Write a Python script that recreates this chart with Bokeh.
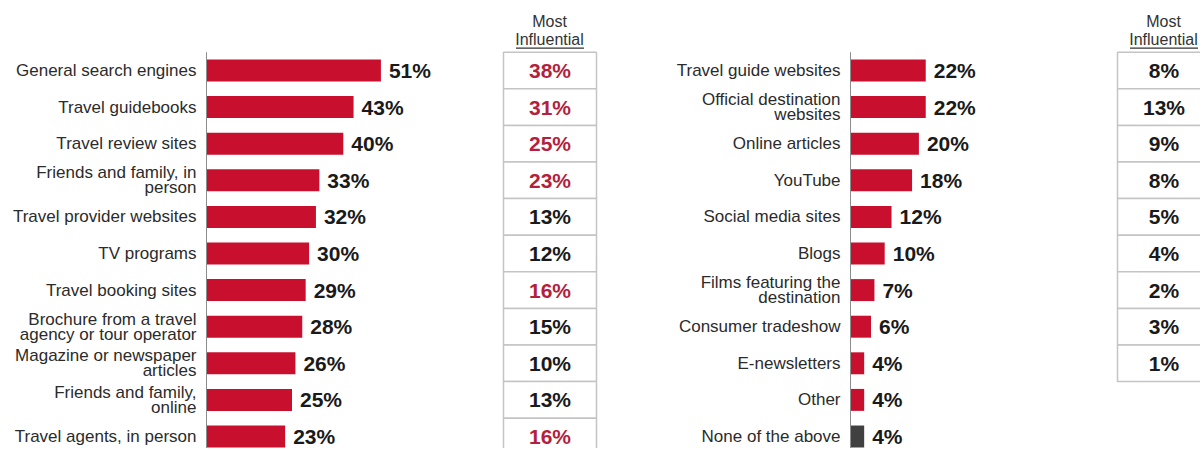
import numpy as np
from bokeh.plotting import figure
from bokeh.models import Range1d, ColumnDataSource
from bokeh.layouts import row
from bokeh.core.properties import value
from bokeh.embed import file_html
from bokeh.resources import INLINE

# ---------------- data ----------------
left_sources = [
    "General search engines", "Travel guidebooks", "Travel review sites",
    "Friends and family, in\nperson", "Travel provider websites", "TV programs",
    "Travel booking sites", "Brochure from a travel\nagency or tour operator",
    "Magazine or newspaper\narticles", "Friends and family,\nonline",
    "Travel agents, in person",
]
left_pct = [51, 43, 40, 33, 32, 30, 29, 28, 26, 25, 23]
left_infl = [38, 31, 25, 23, 13, 12, 16, 15, 10, 13, 16]

right_sources = [
    "Travel guide websites", "Official destination\nwebsites", "Online articles",
    "YouTube", "Social media sites", "Blogs", "Films featuring the\ndestination",
    "Consumer tradeshow", "E-newsletters", "Other", "None of the above",
]
right_pct = [22, 22, 20, 18, 12, 10, 7, 6, 4, 4, 4]
right_infl = [8, 13, 9, 8, 5, 4, 2, 3, 1]

header_lines = ["Most", "Influential"]
infl_highlight_min = 16

# ---------------- style / layout ----------------
H = 448
PX_PER_PCT = 3.42
ROW_PX = 36.6
FIRST_ROW_PX = 70.0
BAR_RED = "#c8102e"
BAR_GRAY = "#404040"
TXT_RED = "#b41f3d"
TXT_DARK = "#1a1a1a"
LABEL_COL = "#2b2b2b"
FONT = value("Liberation Sans")
CELL_W = 93

def y_range():
    return Range1d(start=(H - FIRST_ROW_PX) / ROW_PX, end=-FIRST_ROW_PX / ROW_PX)

def base_fig(width, xr):
    p = figure(width=width, height=H, x_range=xr, y_range=y_range(),
               output_backend="svg", toolbar_location=None, min_border=0,
               x_axis_location=None, y_axis_location=None)
    p.outline_line_color = None
    p.xgrid.visible = False
    p.ygrid.visible = False
    p.background_fill_color = "white"
    p.border_fill_color = "white"
    return p

def bar_fig(cats, vals, width, axis_px):
    xr = Range1d(-axis_px / PX_PER_PCT, (width - axis_px) / PX_PER_PCT)
    p = base_fig(width, xr)
    n = len(cats)
    src = ColumnDataSource(dict(
        y=np.arange(n), v=vals, cat=cats,
        lab=[f"{v}%" for v in vals],
        col=[BAR_GRAY if c == "None of the above" else BAR_RED for c in cats],
    ))
    p.hbar(y="y", left=0, right="v", height=0.6, fill_color="col",
           line_color=None, source=src)
    p.segment(x0=0, y0=-0.5, x1=0, y1=n - 0.5, line_color="#8c8c8c", line_width=1)
    p.text(x=0, y="y", text="cat", source=src, x_offset=-10,
           text_align="right", text_baseline="middle", text_font=FONT,
           text_font_size="17px", text_color=LABEL_COL, text_line_height=0.8)
    p.text(x="v", y="y", text="lab", source=src, x_offset=8,
           text_align="left", text_baseline="middle", text_font=FONT,
           text_font_size="21px", text_font_style="bold", text_color=TXT_DARK)
    return p

def table_fig(vals, width, center_px):
    xr = Range1d(-center_px, width - center_px)
    p = base_fig(width, xr)
    n = len(vals)
    src = ColumnDataSource(dict(
        y=np.arange(n), lab=[f"{v}%" for v in vals],
        col=[TXT_RED if v >= infl_highlight_min else TXT_DARK for v in vals],
    ))
    p.rect(x=0, y="y", width=CELL_W, height=1, fill_color="white",
           line_color="#c4c4c4", line_width=1.5, source=src)
    p.text(x=0, y="y", text="lab", source=src, text_align="center",
           text_baseline="middle", text_font=FONT, text_font_size="21px",
           text_font_style="bold", text_color="col")
    top = -0.5
    hsrc = ColumnDataSource(dict(
        y=[top - 31 / ROW_PX, top - 12.5 / ROW_PX], t=header_lines))
    p.text(x=-0.5, y="y", text="t", source=hsrc, text_align="center",
           text_baseline="middle", text_font=FONT, text_font_size="16px",
           text_color="#333333")
    p.segment(x0=-34, y0=top - 4 / ROW_PX, x1=34, y1=top - 4 / ROW_PX,
              line_color="#333333", line_width=1.3)
    return p

figL = bar_fig(left_sources, left_pct, 496, 206)
tabL = table_fig(left_infl, 144, 53.5)
figR = bar_fig(right_sources, right_pct, 460, 210)
tabR = table_fig(right_infl, 100, 63.5)

layout = row(figL, tabL, figR, tabR, spacing=0)
open("out.html", "w").write(file_html(layout, INLINE))
